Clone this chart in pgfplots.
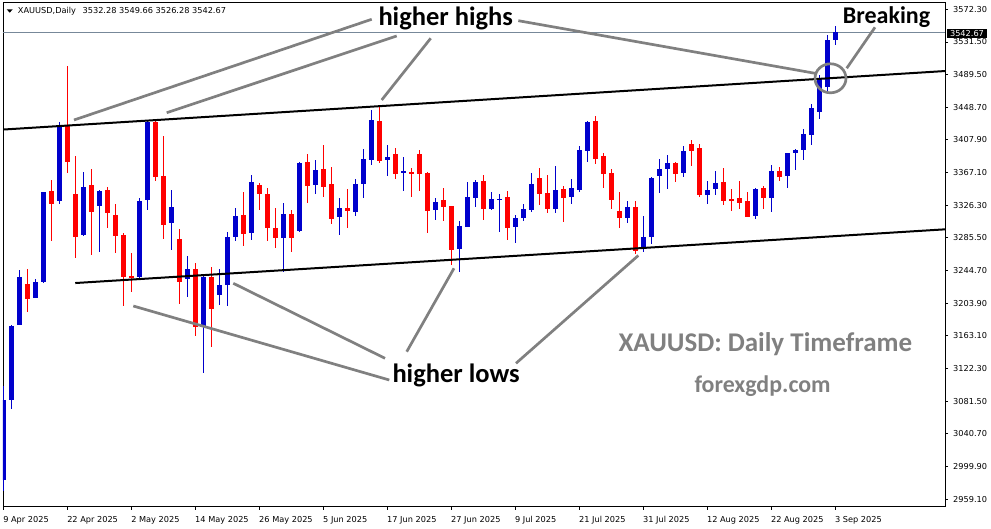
\documentclass[border=0pt]{standalone}
\usepackage{fontspec}
\usepackage{pgfplots}
\pgfplotsset{compat=1.18}
\usepackage{pgfplotstable}
\newfontfamily\tah{DejaVu Sans}
\newfontfamily\calib{Carlito}
\definecolor{cblue}{RGB}{0,0,204}
\definecolor{cred}{RGB}{255,0,0}
\definecolor{agray}{RGB}{128,128,128}
\definecolor{pline}{RGB}{119,136,153}

% bullish (blue) candles: bar index, open, high, low, close
\pgfplotstableread{
k o h l c
0 2982.8 3100.3 2969.1 3082.8
1 3082.8 3176.5 3071.6 3175.3
2 3176.5 3245.3 3176.0 3236.9
4 3210.6 3233.6 3209.9 3229.9
5 3230.3 3343.1 3229.4 3342.4
7 3331.5 3430.6 3327.7 3424.3
10 3288.6 3367.3 3288.0 3348.9
12 3325.6 3345.0 3267.7 3344.0
17 3236.9 3334.9 3232.7 3331.5
18 3332.7 3432.7 3320.2 3430.6
21 3304.4 3345.2 3270.2 3323.6
23 3234.0 3262.7 3211.5 3246.5
25 3174.0 3237.7 3116.2 3236.1
27 3214.0 3246.5 3201.5 3226.5
28 3226.9 3292.8 3200.6 3286.5
29 3286.9 3322.7 3281.5 3312.7
31 3291.1 3364.0 3282.7 3354.9
35 3284.9 3328.6 3243.1 3315.2
37 3294.4 3380.6 3292.4 3379.3
39 3351.5 3382.7 3340.2 3370.2
42 3311.9 3334.9 3289.0 3322.4
44 3318.1 3359.0 3312.7 3352.7
45 3352.7 3396.5 3335.6 3384.0
46 3382.7 3445.2 3376.5 3432.7
48 3383.1 3401.5 3363.1 3386.5
50 3366.8 3386.8 3344.3 3368.9
54 3320.2 3335.6 3307.7 3330.2
57 3271.5 3306.5 3243.1 3300.2
58 3299.4 3354.9 3299.0 3336.5
59 3335.6 3357.7 3324.4 3355.6
61 3321.9 3342.3 3320.2 3333.6
62 3332.8 3340.2 3293.1 3334.0
64 3299.4 3314.0 3279.4 3309.9
65 3310.6 3327.7 3306.5 3321.1
66 3320.2 3366.1 3317.4 3352.7
69 3321.1 3375.2 3316.1 3345.2
71 3336.9 3358.6 3327.7 3347.3
72 3345.2 3400.2 3343.1 3395.2
73 3394.3 3431.8 3380.6 3430.6
78 3310.6 3331.5 3304.4 3324.0
80 3271.5 3312.7 3268.1 3286.5
81 3286.5 3361.9 3277.7 3360.6
82 3362.7 3383.9 3341.9 3371.5
83 3371.5 3388.9 3346.5 3379.3
85 3366.8 3400.6 3361.9 3393.9
88 3339.0 3356.5 3327.7 3345.2
89 3346.1 3368.9 3339.4 3353.6
94 3313.1 3348.1 3308.6 3346.5
96 3335.6 3376.5 3318.1 3368.9
98 3363.1 3391.5 3348.1 3391.5
99 3391.1 3396.5 3370.2 3395.2
100 3395.2 3421.5 3382.3 3415.2
101 3414.0 3452.7 3401.5 3447.7
102 3443.1 3488.9 3434.3 3484.8
103 3474.3 3538.9 3467.7 3532.7
104 3532.28 3549.66 3526.28 3542.67
}\bull

% bearish (red) candles
\pgfplotstableread{
k o h l c
3 3227.4 3246.1 3193.1 3209.0
6 3344.0 3357.7 3281.9 3327.4
8 3425.2 3500.2 3366.1 3379.8
9 3340.2 3387.7 3259.9 3286.9
11 3351.5 3371.1 3263.6 3318.1
13 3345.2 3349.3 3298.1 3316.1
14 3314.4 3327.7 3266.1 3287.4
15 3289.4 3291.1 3200.3 3236.9
16 3238.0 3266.1 3218.1 3236.1
19 3430.6 3432.0 3356.9 3361.9
20 3362.7 3412.7 3284.0 3301.5
22 3284.0 3296.5 3202.8 3230.6
24 3246.5 3253.6 3162.8 3174.4
26 3236.1 3249.0 3149.0 3196.5
30 3314.0 3342.7 3275.2 3290.6
32 3351.5 3353.6 3320.2 3339.9
33 3340.2 3347.3 3281.9 3297.4
34 3297.4 3322.4 3272.4 3284.9
36 3315.2 3320.2 3268.1 3284.9
38 3379.8 3390.2 3329.4 3350.6
40 3371.5 3401.5 3336.9 3349.3
41 3352.7 3374.3 3302.7 3308.6
43 3322.4 3346.5 3298.1 3319.4
47 3431.4 3449.3 3379.3 3381.5
49 3390.2 3398.1 3358.9 3365.2
51 3368.1 3373.1 3336.9 3365.6
52 3390.2 3395.2 3344.3 3365.2
53 3366.5 3368.1 3291.9 3318.9
55 3332.7 3348.1 3306.5 3324.3
56 3325.2 3325.8 3251.5 3270.2
60 3356.5 3364.0 3307.7 3321.5
63 3336.5 3343.9 3282.7 3298.1
67 3359.9 3373.1 3326.5 3339.9
68 3341.5 3364.0 3316.9 3321.1
70 3346.5 3350.6 3305.6 3335.6
74 3431.4 3437.7 3377.7 3384.0
75 3387.7 3391.8 3348.1 3365.2
76 3366.5 3371.5 3321.5 3332.7
77 3319.0 3342.3 3298.1 3310.6
79 3324.0 3331.5 3264.9 3269.4
84 3378.9 3380.6 3354.9 3365.2
86 3402.7 3407.7 3375.6 3394.3
87 3398.1 3402.3 3336.9 3339.0
90 3354.9 3373.1 3326.5 3331.9
91 3334.0 3346.5 3318.9 3331.5
92 3334.8 3356.5 3321.1 3329.3
93 3331.5 3342.7 3311.9 3311.9
95 3347.7 3350.6 3321.9 3335.6
97 3368.9 3374.3 3356.5 3361.9
}\bear

\pgfplotsset{
  wick/.style={draw=none, mark=none, forget plot,
    error bars/.cd, y dir=both, y explicit, error mark=none,
    error bar style={draw=#1, line width=1pt}},
  body/.style={draw=none, mark=none, forget plot,
    error bars/.cd, y dir=both, y explicit, error mark=none,
    error bar style={draw=#1, line width=5pt}},
}

\begin{document}
\begin{tikzpicture}
\useasboundingbox (0,0) rectangle (991pt,528pt);
\begin{axis}[
  at={(3pt,21.3pt)}, anchor=south west,
  scale only axis, width=942pt, height=504pt,
  xmin=-0.075, xmax=117.71, ymin=2949.5, ymax=3579.3,
  axis line style={line width=0.8pt},
  tick align=outside, major tick length=3pt,
  xtick pos=left, ytick pos=right,
  xtick={0,8,16,24,32,40,48,56,64,72,80,88,96,104},
  xticklabels={9 Apr 2025,22 Apr 2025,2 May 2025,14 May 2025,26 May 2025,5 Jun 2025,17 Jun 2025,27 Jun 2025,9 Jul 2025,21 Jul 2025,31 Jul 2025,12 Aug 2025,22 Aug 2025,3 Sep 2025},
  ytick={2959.1,2999.9,3040.7,3081.5,3122.3,3163.1,3203.9,3244.7,3285.5,3326.3,3367.1,3407.9,3448.7,3489.5,3530.3,3571.1},
  yticklabels={2959.10,2999.90,3040.70,3081.50,3122.30,3163.10,3203.90,3244.70,3285.50,3326.30,3367.10,3407.90,3448.70,3489.50,3531.50,3572.30},
  yticklabel pos=right,
  tick label style={font=\tah\fontsize{8.2}{9}\selectfont, text=black},
  xticklabel style={anchor=base west, inner sep=0pt, yshift=-12.8pt, xshift=-0.5pt},
  yticklabel style={anchor=west, inner sep=0pt, xshift=5pt},
  tick style={black, line width=0.8pt},
]
% current price line
\addplot[pline, line width=0.8pt, forget plot] coordinates {(-0.075,3542.67) (117.71,3542.67)};
% wicks
\addplot[wick=cblue] table[x=k, y expr={(\thisrow{h}+\thisrow{l})/2}, y error expr={(\thisrow{h}-\thisrow{l})/2}] {\bull};
\addplot[wick=cred] table[x=k, y expr={(\thisrow{h}+\thisrow{l})/2}, y error expr={(\thisrow{h}-\thisrow{l})/2}] {\bear};
% bodies
\addplot[body=cblue] table[x=k, y expr={(\thisrow{o}+\thisrow{c})/2}, y error expr={abs(\thisrow{c}-\thisrow{o})/2}] {\bull};
\addplot[body=cred] table[x=k, y expr={(\thisrow{o}+\thisrow{c})/2}, y error expr={abs(\thisrow{c}-\thisrow{o})/2}] {\bear};
% channel lines
\addplot[black, line width=2pt, forget plot] coordinates {(-0.04,3420.8) (117.71,3493.9)};
\addplot[black, line width=2pt, forget plot] coordinates {(8.96,3229.0) (117.71,3296.1)};
\end{axis}

\begin{scope}[x=1pt, y=-1pt, yshift=528pt]
  % annotation pointers
  \begin{scope}[agray, line width=2.7pt]
    \draw (74,120) -- (371.7,19.3);
    \draw (166.7,112.7) -- (396.7,36);
    \draw (381.7,100) -- (430.7,38.3);
    \draw (518.3,20.7) -- (815,73.3);
    \draw (846.7,68.3) -- (875,27.3);
    \draw (133.3,306) -- (389.3,380);
    \draw (233.3,283.3) -- (385,358.3);
    \draw (406.7,351.7) -- (454,268.3);
    \draw (516,363.3) -- (638.3,255.5);
    \draw (830.5,78.3) ellipse [x radius=15.5, y radius=14.5];
  \end{scope}
  % header
  \fill[black] (6.7,9.3) -- (12.7,9.3) -- (9.7,12.7) -- cycle;
  \node[anchor=base west, inner sep=0pt, font=\tah\fontsize{8.2}{9}\selectfont] at (17.7,13.7)
    {XAUUSD,Daily\hspace{4pt} 3532.28 3549.66 3526.28 3542.67};
  % current price tag
  \fill[black] (947,28.8) rectangle (987,38);
  \node[anchor=base, inner sep=0pt, text=white, font=\tah\fontsize{8.2}{9}\selectfont] at (967,36.6) {3542.67};
  % labels
  \node[anchor=base west, inner sep=0pt, font=\calib\bfseries\fontsize{26.5}{30}\selectfont] at (378.3,26) {higher highs};
  \node[anchor=base west, inner sep=0pt, font=\calib\bfseries\fontsize{26.5}{30}\selectfont] at (392.3,382.7) {higher lows};
  \node[anchor=base west, inner sep=0pt, font=\calib\bfseries\fontsize{24}{28}\selectfont] at (842.7,23.3) {Breaking};
  \node[anchor=base west, inner sep=0pt, text=agray, font=\calib\bfseries\fontsize{27}{31}\selectfont] at (618.3,351.7) {XAUUSD: Daily Timeframe};
  \node[anchor=base west, inner sep=0pt, text=agray, font=\calib\bfseries\fontsize{23.9}{28}\selectfont] at (694.3,392.7) {forexgdp.com};
\end{scope}
\end{tikzpicture}
\end{document}
